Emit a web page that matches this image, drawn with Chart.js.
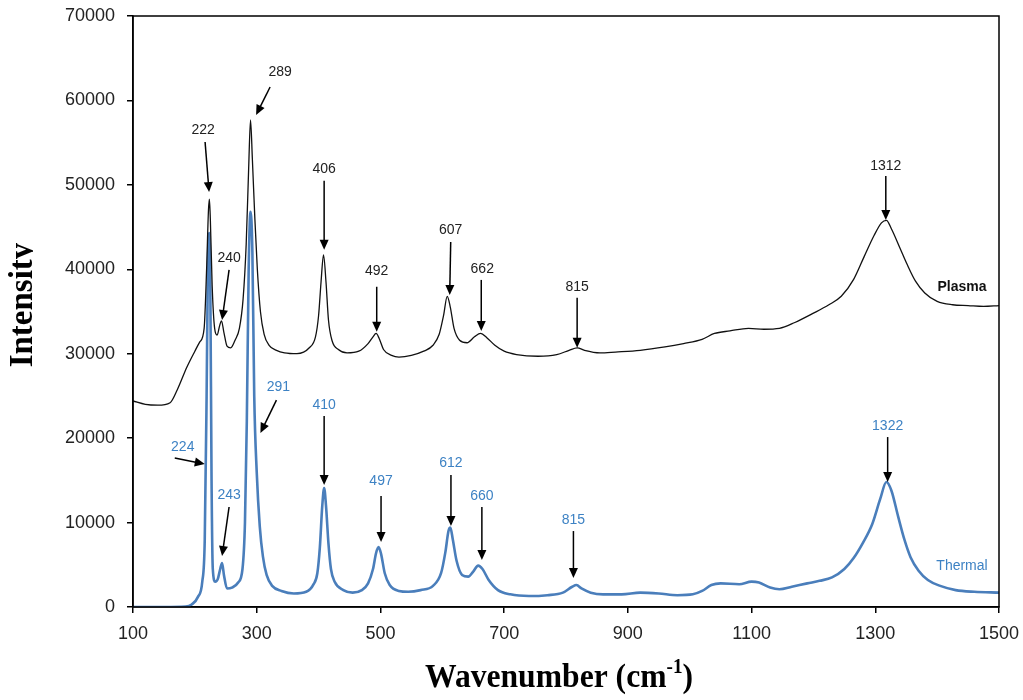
<!DOCTYPE html>
<html>
<head>
<meta charset="utf-8">
<title>Raman spectra</title>
<script src="https://cdn.jsdelivr.net/npm/chart.js@4.4.0/dist/chart.umd.min.js"></script>
<style>
  html, body { margin: 0; padding: 0; background: #fff; }
  #wrap { width: 1023px; height: 700px; }
</style>
</head>
<body>
<div id="wrap"><canvas id="chart" width="1023" height="700"></canvas></div>
<script>
// Plasma spectrum (black)
const plasmaX = [100, 120, 140, 160, 172, 187, 200, 208, 215, 219, 222, 223.5, 225, 228, 232, 236, 240, 243, 247, 252,
    258, 265, 272, 278, 283, 287, 290, 293, 297, 301, 306, 312, 320, 332, 345, 365, 385, 395, 400, 404,
    408, 412, 416, 422, 432, 446, 465, 480, 488, 493, 498, 505, 518, 530, 550, 570, 585, 595, 602, 608,
    613, 619, 628, 640, 652, 662, 672, 685, 700, 720, 755, 785, 805, 818, 830, 855, 880, 920, 960, 990,
    1020, 1040, 1065, 1095, 1120, 1145, 1170, 1200, 1225, 1245, 1265, 1282, 1298, 1310, 1318, 1326, 1340, 1352, 1365, 1380,
    1400, 1425, 1450, 1475, 1500];
const plasmaY = [24400, 24000, 23900, 24200, 25800, 28400, 30300, 31400, 33000, 40000, 47000, 48300, 46000, 38000, 33000, 32200, 33300, 33900, 32500, 30900,
    30700, 31600, 33000, 36500, 43000, 52000, 57700, 53000, 46000, 40000, 35000, 32300, 31000, 30400, 30100, 30000, 30700, 32000, 34500, 38500,
    41700, 38500, 34000, 31500, 30500, 30100, 30300, 31200, 32000, 32400, 31800, 30500, 29800, 29600, 29800, 30300, 31000, 32300, 34500, 36800,
    35500, 33000, 31600, 31300, 32000, 32400, 31900, 31000, 30300, 29900, 29700, 29900, 30400, 30700, 30400, 30100, 30200, 30400, 30800, 31200,
    31700, 32400, 32700, 33000, 32900, 33000, 33700, 34800, 35800, 36800, 38800, 41500, 44000, 45500, 45800, 44800, 42500, 40500, 38600, 37200,
    36200, 35800, 35700, 35600, 35700];

// Thermal spectrum (blue)
const thermalX = [100, 150, 185, 195, 205, 212, 216, 219, 221, 223, 225, 227, 229, 233, 237, 241, 244, 247, 252, 260,
    270, 277, 281, 284, 287, 290, 293, 296, 300, 305, 310, 316, 325, 340, 360, 380, 392, 398, 402, 406,
    409, 412, 416, 420, 426, 440, 455, 470, 480, 488, 493, 497, 501, 507, 515, 530, 545, 565, 585, 598,
    605, 610, 613, 617, 623, 632, 642, 650, 658, 665, 675, 690, 710, 740, 770, 795, 810, 817, 825, 840,
    860, 890, 920, 950, 980, 1005, 1020, 1035, 1050, 1080, 1100, 1112, 1130, 1145, 1165, 1190, 1210, 1230, 1250, 1265,
    1280, 1295, 1308, 1318, 1326, 1337, 1347, 1357, 1370, 1385, 1405, 1430, 1460, 1500];
const thermalY = [0, 0, 50, 300, 1200, 3000, 8000, 25000, 40000, 44300, 38000, 15000, 4500, 3000, 3300, 4500, 5200, 3800, 2200, 2300,
    2900, 4500, 10000, 22000, 40000, 46800, 42000, 25000, 16000, 9500, 6000, 3800, 2500, 1900, 1600, 1800, 2700, 4000, 7000, 12000,
    14100, 12000, 7500, 4500, 3000, 2000, 1700, 2000, 2800, 4500, 6400, 7100, 6300, 4000, 2600, 1900, 1800, 2000, 2500, 4000,
    6500, 9000, 9400, 8000, 5500, 3800, 3600, 4200, 4900, 4500, 3200, 2000, 1500, 1300, 1400, 1700, 2400, 2600, 2200, 1700,
    1500, 1500, 1700, 1600, 1400, 1500, 1900, 2600, 2800, 2700, 3000, 2900, 2300, 2100, 2400, 2800, 3100, 3500, 4500, 5800,
    7600, 9800, 12800, 14800, 13800, 10700, 8000, 5900, 4300, 3200, 2500, 2000, 1800, 1700];

// Axis ticks
const xTicks = [100, 300, 500, 700, 900, 1100, 1300, 1500];
const yTicks = [0, 10000, 20000, 30000, 40000, 50000, 60000, 70000];

// Peak annotations: text and arrow tip (data units)
const plasmaPeakText = ['222', '240', '289', '406', '492', '607', '662', '815', '1312'];
const plasmaPeakX = [223, 244, 299, 409, 494, 612, 663, 818, 1317];
const plasmaPeakY = [49150, 34000, 58270, 42300, 32600, 36950, 32700, 30700, 45840];
const thermalPeakText = ['224', '243', '291', '410', '497', '612', '660', '815', '1322'];
const thermalPeakX = [216, 244, 306, 409, 501, 614, 664, 812, 1320];
const thermalPeakY = [16940, 6040, 20600, 14450, 7700, 9600, 5570, 3430, 14800];

// arrow tail offset from tip and label offset from tail, in px
const plasmaArrows = [[-4, -50, -2, -12], [7, -50, 0, -12], [14, -28, 10, -15], [0, -69, 0, -12], [0, -45, 0, -16],
    [1, -53, 0, -12], [0, -51, 1, -11], [0, -50, 0, -11], [0, -44, 0, -10]];
const thermalArrows = [[-30, -6, 8, -11], [7, -49, 0, -12], [16, -33, 2, -13], [0, -69, 0, -11], [0, -46, 0, -15],
    [0, -51, 0, -12], [0, -53, 0, -11], [0, -47, 0, -11], [0, -45, 0, -11]];

const blue = '#4a7ebb';
const blueText = '#3d82c4';

function toPoints(xs, ys) {
    return xs.map((x, i) => ({ x: x, y: ys[i] }));
}

function drawArrow(ctx, x1, y1, x2, y2) {
    const ang = Math.atan2(y2 - y1, x2 - x1);
    const head = 10;
    ctx.beginPath();
    ctx.moveTo(x1, y1);
    ctx.lineTo(x2 - Math.cos(ang) * head * 0.8, y2 - Math.sin(ang) * head * 0.8);
    ctx.stroke();
    ctx.beginPath();
    ctx.moveTo(x2, y2);
    ctx.lineTo(x2 - head * Math.cos(ang) + 4.5 * Math.sin(ang), y2 - head * Math.sin(ang) - 4.5 * Math.cos(ang));
    ctx.lineTo(x2 - head * Math.cos(ang) - 4.5 * Math.sin(ang), y2 - head * Math.sin(ang) + 4.5 * Math.cos(ang));
    ctx.closePath();
    ctx.fill();
}

const decorPlugin = {
    id: 'decor',
    afterDraw(chart) {
        const ctx = chart.ctx;
        const xs = chart.scales.x, ys = chart.scales.y;
        const area = chart.chartArea;
        ctx.save();

        // frame
        ctx.strokeStyle = '#000';
        ctx.lineWidth = 1.5;
        ctx.strokeRect(area.left, area.top, area.right - area.left, area.bottom - area.top);

        // peak arrows
        ctx.lineWidth = 1.5;
        ctx.fillStyle = '#000';
        ctx.strokeStyle = '#000';
        ctx.font = '14px "Liberation Sans", Arial, sans-serif';
        ctx.textAlign = 'center';
        ctx.textBaseline = 'middle';
        const groups = [
            [plasmaPeakText, plasmaPeakX, plasmaPeakY, plasmaArrows, '#222'],
            [thermalPeakText, thermalPeakX, thermalPeakY, thermalArrows, blueText]
        ];
        groups.forEach(([txt, px, py, arr, col]) => {
            txt.forEach((t, i) => {
                const tx = xs.getPixelForValue(px[i]);
                const ty = ys.getPixelForValue(py[i]);
                const sx = tx + arr[i][0], sy = ty + arr[i][1];
                ctx.fillStyle = '#000';
                drawArrow(ctx, sx, sy, tx, ty);
                ctx.fillStyle = col;
                ctx.fillText(t, sx + arr[i][2], sy + arr[i][3]);
            });
        });

        // series names
        ctx.textAlign = 'center';
        ctx.font = 'bold 14px "Liberation Sans", Arial, sans-serif';
        ctx.fillStyle = '#111';
        ctx.fillText('Plasma', 962, 287);
        ctx.font = '14px "Liberation Sans", Arial, sans-serif';
        ctx.fillStyle = blueText;
        ctx.fillText('Thermal', 962, 566);

        // x title with superscript, slightly condensed like the original
        ctx.save();
        ctx.fillStyle = '#000';
        ctx.textBaseline = 'alphabetic';
        ctx.textAlign = 'left';
        const big = 'bold 33px "Liberation Serif", "Times New Roman", serif';
        const sup = 'bold 20px "Liberation Serif", "Times New Roman", serif';
        ctx.font = big;
        const w1 = ctx.measureText('Wavenumber (cm').width;
        const w3 = ctx.measureText(')').width;
        ctx.font = sup;
        const w2 = ctx.measureText('-1').width;
        const total = w1 + w2 + w3;
        const sx = 268 / total;
        ctx.translate(559 - 134, 687);
        ctx.scale(sx, 1);
        ctx.font = big;
        ctx.fillText('Wavenumber (cm', 0, 0);
        ctx.font = sup;
        ctx.fillText('-1', w1, -14);
        ctx.font = big;
        ctx.fillText(')', w1 + w2, 0);
        ctx.restore();

        // y title, rotated; the reference has the descender side cut off
        ctx.beginPath();
        ctx.rect(0, 0, 33, 700);
        ctx.clip();
        ctx.translate(32, 305);
        ctx.rotate(-Math.PI / 2);
        ctx.fillStyle = '#000';
        ctx.textAlign = 'center';
        ctx.textBaseline = 'alphabetic';
        ctx.font = 'bold 33px "Liberation Serif", "Times New Roman", serif';
        ctx.fillText('Intensity', 0, 0);
        ctx.restore();
    }
};

new Chart(document.getElementById('chart'), {
    type: 'line',
    data: {
        datasets: [{
            label: 'Plasma',
            data: toPoints(plasmaX, plasmaY),
            borderColor: '#111',
            borderWidth: 1.3,
            pointRadius: 0,
            cubicInterpolationMode: 'monotone',
            fill: false
        }, {
            label: 'Thermal',
            data: toPoints(thermalX, thermalY),
            borderColor: blue,
            borderWidth: 2.6,
            pointRadius: 0,
            cubicInterpolationMode: 'monotone',
            fill: false
        }]
    },
    options: {
        responsive: false,
        devicePixelRatio: 1,
        animation: false,
        layout: { padding: { top: 16, right: 24, left: 0, bottom: 0 } },
        plugins: {
            legend: { display: false },
            tooltip: { enabled: false }
        },
        scales: {
            x: {
                type: 'linear',
                min: 100,
                max: 1500,
                afterFit(scale) { scale.height = 93; scale.paddingRight = 0; scale.paddingLeft = 0; },
                afterBuildTicks(scale) {
                    scale.ticks = xTicks.map(v => ({ value: v }));
                },
                ticks: {
                    color: '#222',
                    font: { family: '"Liberation Sans", Arial, sans-serif', size: 18 },
                    padding: 10,
                    maxRotation: 0,
                    autoSkip: false,
                    callback: v => String(v)
                },
                grid: { drawOnChartArea: false, drawTicks: true, tickLength: 6, color: '#000', lineWidth: 1.5 },
                border: { display: true, color: '#000', width: 1.5 }
            },
            y: {
                min: 0,
                max: 70000,
                afterFit(scale) { scale.width = 133; scale.paddingTop = 0; scale.paddingBottom = 0; },
                afterBuildTicks(scale) {
                    scale.ticks = yTicks.map(v => ({ value: v }));
                },
                ticks: {
                    color: '#222',
                    font: { family: '"Liberation Sans", Arial, sans-serif', size: 18 },
                    padding: 12,
                    callback: v => String(v)
                },
                grid: { drawOnChartArea: false, drawTicks: true, tickLength: 6, color: '#000', lineWidth: 1.5 },
                border: { display: true, color: '#000', width: 1.5 }
            }
        }
    },
    plugins: [decorPlugin]
});
</script>
</body>
</html>
